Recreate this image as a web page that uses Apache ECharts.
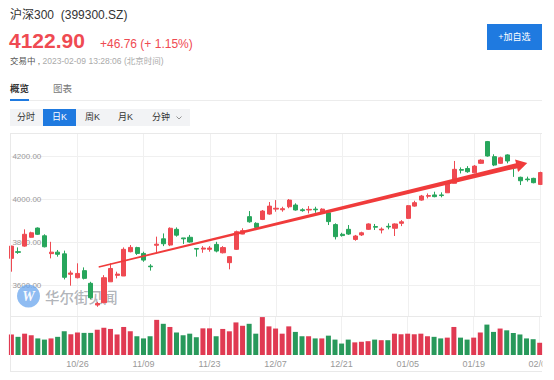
<!DOCTYPE html>
<html><head><meta charset="utf-8">
<script src="https://cdn.jsdelivr.net/npm/echarts@6/dist/echarts.min.js"></script>
<style>
html,body{margin:0;padding:0;background:#fff;}
body{width:554px;height:380px;overflow:hidden;position:relative;font-family:"Liberation Sans",Arial,"Noto Sans CJK SC",sans-serif;}
#chart{position:absolute;left:0;top:0;width:554px;height:380px;}
.t{position:absolute;white-space:nowrap;}
</style></head><body>
<div id="chart"></div>
<div class="t" style="left:10px;top:8px;font-size:12px;line-height:15px;color:#333;">沪深300<span style="margin-left:6.7px">(399300.SZ)</span></div>
<div class="t" style="left:9px;top:29px;font-size:21px;line-height:24px;font-weight:bold;color:#ef4a52;">4122.90</div>
<div class="t" style="left:100px;top:37px;font-size:12px;line-height:15px;color:#ef4a52;">+46.76 (+ 1.15%)</div>
<div class="t" style="left:10px;top:56px;font-size:8.5px;line-height:10px;color:#aaa;"><span style="color:#555">交易中 ,</span> 2023-02-09 13:28:06 (北京时间)</div>
<div class="t" style="left:10px;top:83px;font-size:9.5px;line-height:11px;color:#333;font-weight:bold;">概览</div>
<div class="t" style="left:53px;top:83px;font-size:9.5px;line-height:11px;color:#777;">图表</div>
<div class="t" style="left:10px;top:100px;width:532px;height:1px;background:#ececec;"></div>
<div class="t" style="left:10px;top:99px;width:19px;height:2px;background:#1f7ae0;"></div>
<div class="t" style="left:10px;top:109px;width:180px;height:17px;background:#f2f3f5;"></div>
<div class="t" style="left:43px;top:109px;width:33px;height:17px;background:#1f7ae0;"></div>
<div class="t" style="left:11px;top:109px;width:30px;text-align:center;font-size:9px;line-height:17px;color:#333;">分时</div>
<div class="t" style="left:44px;top:109px;width:31px;text-align:center;font-size:9px;line-height:17px;color:#fff;">日K</div>
<div class="t" style="left:77px;top:109px;width:31px;text-align:center;font-size:9px;line-height:17px;color:#333;">周K</div>
<div class="t" style="left:110px;top:109px;width:31px;text-align:center;font-size:9px;line-height:17px;color:#333;">月K</div>
<div class="t" style="left:152px;top:109px;font-size:9px;line-height:17px;color:#333;">分钟<svg width="6" height="4" style="margin-left:6px;vertical-align:middle" viewBox="0 0 6 4"><polyline points="0.5,0.5 3,3 5.5,0.5" fill="none" stroke="#888" stroke-width="0.9"/></svg></div>
<div class="t" style="left:487px;top:24px;width:55px;height:26px;background:#1f7ae0;color:#fff;text-align:center;font-size:9px;line-height:26px;">+加自选</div>
<script>
const dates = ['10/12','10/13','10/14','10/17','10/18','10/19','10/20','10/21','10/24','10/25','10/26','10/27','10/28','10/31','11/01','11/02','11/03','11/04','11/07','11/08','11/09','11/10','11/11','11/14','11/15','11/16','11/17','11/18','11/21','11/22','11/23','11/24','11/25','11/28','11/29','11/30','12/01','12/02','12/05','12/06','12/07','12/08','12/09','12/12','12/13','12/14','12/15','12/16','12/19','12/20','12/21','12/22','12/23','12/26','12/27','12/28','12/29','12/30','01/03','01/04','01/05','01/06','01/09','01/10','01/11','01/12','01/13','01/16','01/17','01/18','01/19','01/20','01/30','01/31','02/01','02/02','02/03','02/06','02/07','02/08','02/09'];
const opens = [3724,3755,3781,3822,3865,3829,3746,3753,3745,3650,
 3634,3667,3608,3507,3518,3615,3645,3642,3755,3774,
 3747,3688,3785,3815,3786,3859,3819,3822,3770,3767,
 3766,3789,3750,3704,3766,3837,3918,3887,3905,3930,
 3953,3950,3964,3972,3950,3949,3953,3936,3936,3881,
 3836,3859,3812,3833,3859,3872,3856,3873,3864,3887,
 3910,3967,3995,4013,4019,4019,4029,4073,4137,4142,
 4122,4166,4267,4197,4166,4205,4148,4101,4093,4096,
 4068];
const closes = [3781,3752,3836,3843,3836,3778,3753,3743,3636,3656,
 3654,3631,3541,3514,3634,3677,3651,3766,3775,3747,
 3716,3685,3790,3792,3864,3832,3815,3800,3767,3772,
 3772,3758,3774,3732,3848,3853,3894,3868,3944,3967,
 3957,3955,3995,3949,3946,3952,3950,3953,3895,3825,
 3830,3837,3828,3843,3884,3869,3860,3870,3884,3894,
 3969,3983,4014,4016,4011,4016,4073,4138,4134,4127,
 4153,4181,4200,4158,4192,4177,4145,4085,4090,4076,
 4123];
const lows = [3662,3745,3778,3820,3833,3775,3724,3732,3626,3597,
 3631,3626,3533,3499,3515,3615,3631,3642,3752,3740,
 3708,3667,3747,3781,3781,3825,3791,3797,3732,3750,
 3755,3752,3747,3673,3763,3836,3890,3864,3902,3927,
 3941,3941,3957,3946,3941,3933,3936,3933,3879,3812,
 3825,3833,3806,3828,3856,3856,3840,3859,3828,3874,
 3907,3964,3992,4003,4008,4008,4029,4073,4119,4122,
 4119,4163,4197,4153,4163,4166,4103,4065,4081,4073,
 4065];
const highs = [3783,3775,3859,3848,3868,3836,3801,3763,3760,3667,
 3701,3682,3615,3522,3646,3701,3662,3775,3786,3778,
 3755,3697,3825,3840,3868,3868,3819,3833,3770,3781,
 3781,3801,3781,3735,3853,3864,3944,3892,3949,3986,
 3995,3964,4000,3980,3957,3967,3964,3957,3949,3887,
 3843,3879,3833,3848,3887,3884,3868,3887,3887,3902,
 3972,3992,4019,4026,4034,4031,4073,4177,4147,4153,
 4158,4185,4270,4208,4197,4208,4150,4104,4104,4099,
 4127];
const volumes = [104,92,108,100,84,78,84,92,120,105,
 114,112,112,128,138,132,104,142,120,95,
 84,95,178,158,142,114,100,108,90,135,
 135,95,132,120,165,148,158,108,192,145,
 134,108,145,117,95,95,84,84,98,78,
 58,78,64,67,70,78,75,75,108,105,
 108,105,108,95,92,84,88,142,88,78,
 88,114,154,117,134,125,112,104,84,80,
 62];
const yTicks = [3600, 3800, 4000, 4200];
const arrowFrom = [13.2, 3684];
const arrowTo = [78, 4167];

const UP = '#ef4a52', DOWN = '#27a65c', VUP = '#e03a52', VDOWN = '#28995b';
const GRID_LINE = '#f0f0f0', FRAME = '#e9e9e9';
const labelEvery = (i) => i % 10 === 0 && i > 0;

const chart = echarts.init(document.getElementById('chart'), null, {renderer: 'svg'});
const kData = opens.map((o, i) => [o, closes[i], lows[i], highs[i]]);
const vData = volumes.map((v, i) => ({value: v, itemStyle: {color: closes[i] >= opens[i] ? VUP : VDOWN}}));

chart.setOption({
  animation: false,
  grid: [
    {left: 11.4, right: 13.5, top: 133, height: 183},
    {left: 11.4, right: 13.5, top: 316.5, height: 38.5}
  ],
  xAxis: [
    {type: 'category', gridIndex: 0, data: dates, boundaryGap: false,
     axisLine: {show: false}, axisTick: {show: false}, axisLabel: {show: false},
     splitLine: {show: true, interval: labelEvery, lineStyle: {color: GRID_LINE}}},
    {type: 'category', gridIndex: 1, data: dates, boundaryGap: false,
     axisLine: {show: false}, axisTick: {show: false},
     axisLabel: {show: true, interval: labelEvery, color: '#999', fontSize: 9, margin: 4, fontFamily: 'Liberation Sans, Arial, sans-serif'},
     splitLine: {show: true, interval: labelEvery, lineStyle: {color: GRID_LINE}}}
  ],
  yAxis: [
    {type: 'value', gridIndex: 0, min: 3456, max: 4307, minInterval: 200, maxInterval: 200,
     axisLine: {show: false}, axisTick: {show: false},
     axisLabel: {inside: true, margin: 1, fontSize: 8, color: '#9a9a9a', showMinLabel: false, showMaxLabel: false,
       fontFamily: 'Liberation Sans, Arial, sans-serif',
       formatter: (v) => yTicks.includes(v) ? v.toFixed(2) : ''},
     splitLine: {show: true, lineStyle: {color: GRID_LINE}}},
    {type: 'value', gridIndex: 1, min: 0, max: 195, show: false, splitLine: {show: false}}
  ],
  series: [
    {type: 'candlestick', xAxisIndex: 0, yAxisIndex: 0, data: kData, barWidth: 4.6, clip: false,
     itemStyle: {color: UP, color0: DOWN, borderColor: UP, borderColor0: DOWN, borderWidth: 1}},
    {type: 'bar', xAxisIndex: 1, yAxisIndex: 1, data: vData, barWidth: 5, clip: false}
  ]
});

// trend arrow (data coordinates -> pixels via the chart's scales)
const x0 = chart.convertToPixel({xAxisIndex: 0}, dates[0]);
const xN = chart.convertToPixel({xAxisIndex: 0}, dates[dates.length - 1]);
const xPix = (f) => x0 + (xN - x0) * f / (dates.length - 1);
const yPix = (v) => chart.convertToPixel({yAxisIndex: 0}, v);
const A = [xPix(arrowFrom[0]), yPix(arrowFrom[1])];
const B = [xPix(arrowTo[0]), yPix(arrowTo[1])];
const L = Math.hypot(B[0] - A[0], B[1] - A[1]);
const u = [(B[0] - A[0]) / L, (B[1] - A[1]) / L];
const n = [-u[1], u[0]];
const headLen = 11, headHalf = 6.5, w0 = 0.7, w1 = 2.5;
const neck = [B[0] - u[0] * headLen, B[1] - u[1] * headLen];
const P = (p, k) => [p[0] + n[0] * k, p[1] + n[1] * k];
const arrowPts = [P(A, w0), P(neck, w1), P(neck, headHalf), B, P(neck, -headHalf), P(neck, -w1), P(A, -w0)];

chart.setOption({
  graphic: [
    {type: 'line', z: 5, shape: {x1: 10, y1: 133.5, x2: 542, y2: 133.5}, style: {stroke: FRAME, lineWidth: 1}},
    {type: 'line', z: 5, shape: {x1: 10.5, y1: 133, x2: 10.5, y2: 371}, style: {stroke: FRAME, lineWidth: 1}},
    {type: 'line', z: 5, shape: {x1: 10, y1: 316.5, x2: 542, y2: 316.5}, style: {stroke: FRAME, lineWidth: 1}},
    {type: 'line', z: 5, shape: {x1: 10, y1: 371.5, x2: 542, y2: 371.5}, style: {stroke: FRAME, lineWidth: 1}},
    {type: 'circle', z: 1, shape: {cx: 28.5, cy: 296, r: 11.5}, style: {fill: '#6aa5ee', opacity: 0.75}},
    {type: 'text', z: 1, x: 28.5, y: 296, style: {text: 'W', fill: '#fff', font: 'bold italic 14px Liberation Serif, serif', align: 'center', verticalAlign: 'middle', opacity: 0.95}},
    {type: 'text', z: 1, x: 45, y: 296, style: {text: '华尔街见闻', fill: '#8f949b', font: '500 14.5px "Noto Sans CJK SC", sans-serif', verticalAlign: 'middle', opacity: 0.7}},
    {type: 'polygon', z: 10, shape: {points: arrowPts}, style: {fill: '#f03b3b'}},
    {type: 'rect', z: 100, shape: {x: 542.5, y: 128, width: 12, height: 252}, style: {fill: '#fff'}}
  ]
});
</script>
</body></html>
